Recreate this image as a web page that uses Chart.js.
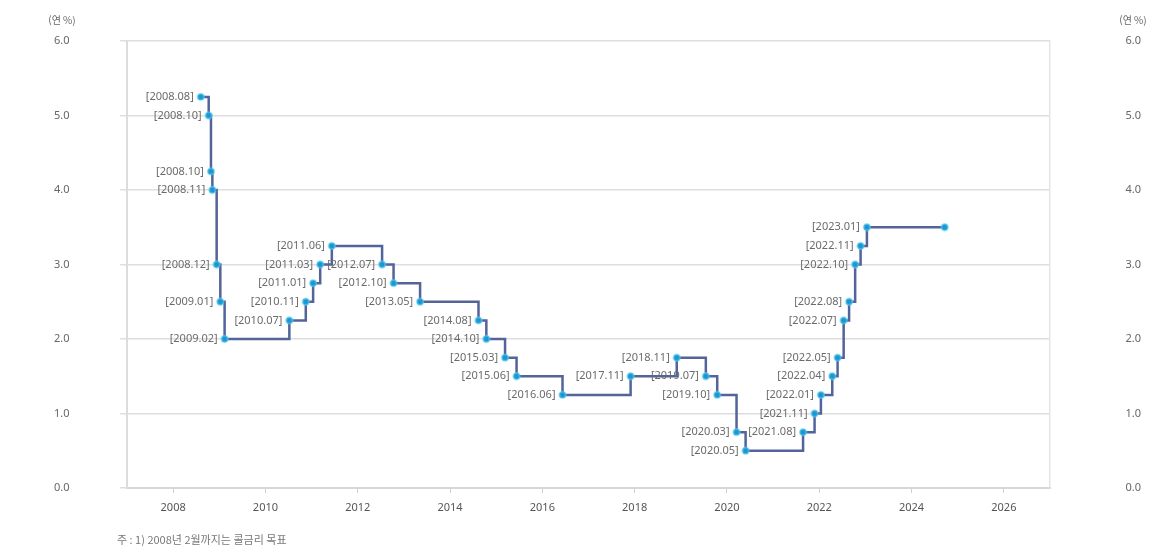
<!DOCTYPE html>
<html lang="ko">
<head>
<meta charset="utf-8">
<title>한국은행 기준금리 추이</title>
<script src="https://cdn.jsdelivr.net/npm/chart.js@4.4.1/dist/chart.umd.min.js"></script>
<style>
  html, body { margin: 0; padding: 0; background: #fff; }
  #wrap { width: 1155px; height: 552px; position: relative; }
</style>
</head>
<body>
<div id="wrap"><canvas id="rateChart"></canvas></div>
<script>
// 기준금리 변경일과 금리 (연 %)
const changeDates = [
  "2008-08-07", "2008-10-09", "2008-10-27", "2008-11-07", "2008-12-11",
  "2009-01-09", "2009-02-12", "2010-07-09", "2010-11-16", "2011-01-13",
  "2011-03-10", "2011-06-10", "2012-07-12", "2012-10-11", "2013-05-09",
  "2014-08-14", "2014-10-15", "2015-03-12", "2015-06-11", "2016-06-09",
  "2017-11-30", "2018-11-30", "2019-07-18", "2019-10-16", "2020-03-17",
  "2020-05-28", "2021-08-26", "2021-11-25", "2022-01-14", "2022-04-14",
  "2022-05-26", "2022-07-13", "2022-08-25", "2022-10-12", "2022-11-24",
  "2023-01-13", "2024-09-20"
];
const baseRates = [
  5.25, 5.00, 4.25, 4.00, 3.00,
  2.50, 2.00, 2.25, 2.50, 2.75,
  3.00, 3.25, 3.00, 2.75, 2.50,
  2.25, 2.00, 1.75, 1.50, 1.25,
  1.50, 1.75, 1.50, 1.25, 0.75,
  0.50, 0.75, 1.00, 1.25, 1.50,
  1.75, 2.25, 2.50, 3.00, 3.25,
  3.50, 3.50
];
const pointLabels = [
  "[2008.08]", "[2008.10]", "[2008.10]", "[2008.11]", "[2008.12]",
  "[2009.01]", "[2009.02]", "[2010.07]", "[2010.11]", "[2011.01]",
  "[2011.03]", "[2011.06]", "[2012.07]", "[2012.10]", "[2013.05]",
  "[2014.08]", "[2014.10]", "[2015.03]", "[2015.06]", "[2016.06]",
  "[2017.11]", "[2018.11]", "[2019.07]", "[2019.10]", "[2020.03]",
  "[2020.05]", "[2021.08]", "[2021.11]", "[2022.01]", "[2022.04]",
  "[2022.05]", "[2022.07]", "[2022.08]", "[2022.10]", "[2022.11]",
  "[2023.01]", ""
];
const yearTicks = [2008, 2010, 2012, 2014, 2016, 2018, 2020, 2022, 2024, 2026];
const rateTicks = [0, 1, 2, 3, 4, 5, 6];
const unitLabel = "(연 %)";
const footnote = "주 : 1) 2008년 2월까지는 콜금리 목표";

// 날짜 -> 소수 연도
const toYear = (s) => {
  const d = new Date(s + "T00:00:00Z");
  const y = d.getUTCFullYear();
  const start = Date.UTC(y, 0, 1);
  const end = Date.UTC(y + 1, 0, 1);
  return y + (d.getTime() - start) / (end - start);
};

const points = changeDates.map((d, i) => ({ x: toYear(d), y: baseRates[i] }));

const tickFont = { family: "'Noto Sans', 'Noto Sans CJK KR', sans-serif", size: 11 };

const labelPlugin = {
  id: "pointLabels",
  afterDatasetsDraw(chart) {
    const ctx = chart.ctx;
    const meta = chart.getDatasetMeta(0);
    ctx.save();
    ctx.font = "11px 'Noto Sans', 'Noto Sans CJK KR', sans-serif";
    ctx.fillStyle = "#6b6b6b";
    ctx.textAlign = "right";
    ctx.textBaseline = "middle";
    meta.data.forEach((pt, i) => {
      if (pointLabels[i]) ctx.fillText(pointLabels[i], pt.x - 7, pt.y);
    });
    ctx.restore();
  },
  afterDraw(chart) {
    const ctx = chart.ctx;
    const yl = chart.scales.y, yr = chart.scales.y2;
    ctx.save();
    ctx.font = "10px 'Noto Sans CJK KR', sans-serif";
    ctx.fillStyle = "#666";
    ctx.textAlign = "center";
    ctx.textBaseline = "middle";
    ctx.fillText(unitLabel, 62, 20);
    ctx.fillText(unitLabel, 1133, 20);
    ctx.font = "11px 'Noto Sans CJK KR', sans-serif";
    ctx.fillStyle = "#777";
    ctx.textAlign = "left";
    ctx.fillText(footnote, 117, 540);
    ctx.restore();
  }
};

new Chart(document.getElementById("rateChart"), {
  type: "line",
  data: {
    datasets: [{
      data: points,
      stepped: true,
      borderColor: "#52649a",
      borderWidth: 2.5,
      pointRadius: 3.2,
      pointBackgroundColor: "#1b96d2",
      pointBorderColor: "rgba(90,205,240,0.55)",
      pointBorderWidth: 2,
      fill: false
    }]
  },
  options: {
    responsive: true,
    maintainAspectRatio: false,
    animation: false,
    layout: { padding: { top: 41, left: 54, right: 14, bottom: 0 } },
    plugins: {
      legend: { display: false },
      tooltip: { enabled: false }
    },
    scales: {
      x: {
        type: "linear",
        min: 2007,
        max: 2027,
        afterBuildTicks: (s) => { s.ticks = yearTicks.map(v => ({ value: v })); },
        afterFit: (s) => { s.height = 64; },
        grid: { drawOnChartArea: false, drawTicks: true, tickLength: 5, color: "#cfcfcf" },
        border: { color: "#d6d6d6", width: 2 },
        ticks: { color: "#555", font: tickFont, padding: 8, maxRotation: 0,
                 callback: (v) => String(v) }
      },
      y: {
        position: "left",
        min: 0,
        max: 6,
        afterBuildTicks: (s) => { s.ticks = rateTicks.map(v => ({ value: v })); },
        afterFit: (s) => { s.width = 73; },
        grid: { color: "#dedede", lineWidth: 1.5, tickLength: 7 },
        border: { color: "#dcdcdc", width: 2 },
        ticks: { color: "#666", font: tickFont, crossAlign: "far",
                 callback: (v) => Number(v).toFixed(1) }
      },
      y2: {
        position: "right",
        min: 0,
        max: 6,
        afterBuildTicks: (s) => { s.ticks = rateTicks.map(v => ({ value: v })); },
        afterFit: (s) => { s.width = 91; },
        grid: { display: false },
        border: { color: "#e4e4e4", width: 1.5 },
        ticks: { color: "#666", font: tickFont, crossAlign: "far",
                 callback: (v) => Number(v).toFixed(1) }
      }
    }
  },
  plugins: [labelPlugin]
});
</script>
</body>
</html>
